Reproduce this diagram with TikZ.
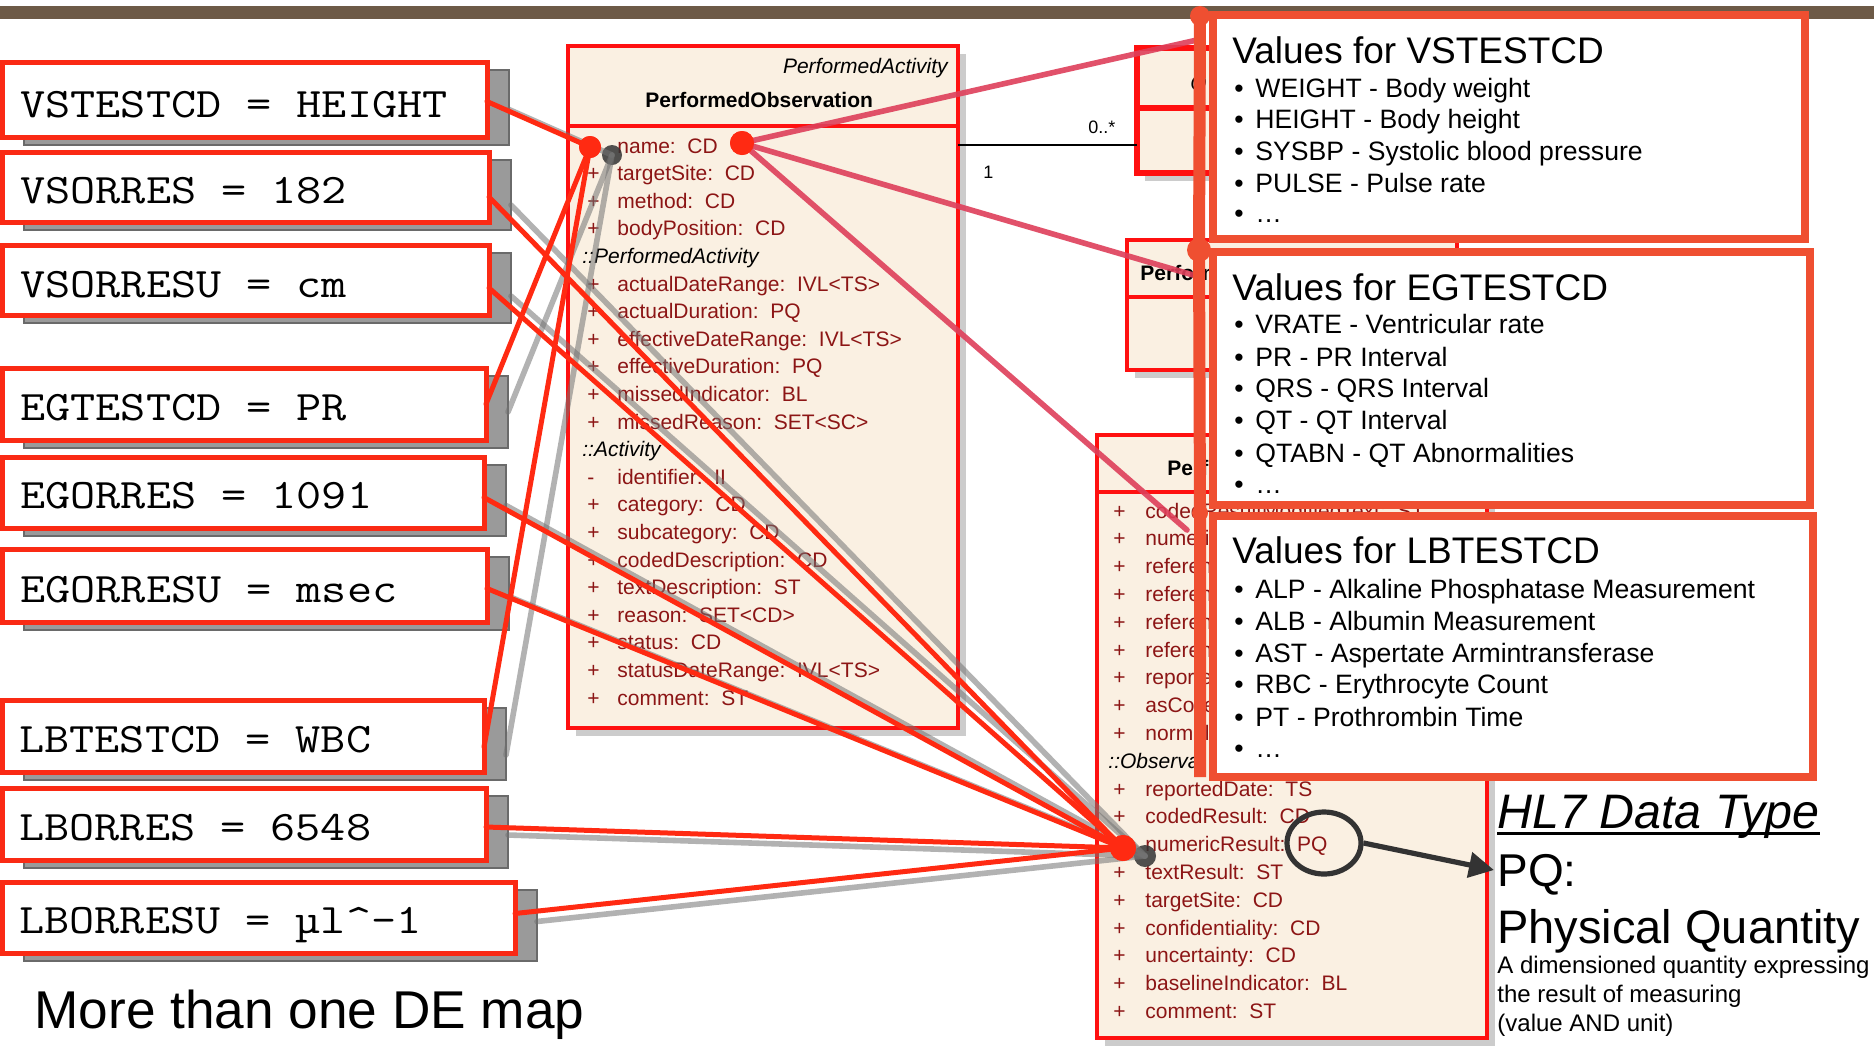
\documentclass[tikz,border=0pt]{standalone}
\usepackage{fontspec}
\usepackage{graphicx}
\setmainfont{Liberation Sans}
\usetikzlibrary{fit,calc,arrows.meta,shapes.geometric}
\definecolor{barbrown}{HTML}{6D5A47}
\definecolor{boxred}{HTML}{FA2A14}
\definecolor{umlred}{HTML}{FF1010}
\definecolor{beige}{HTML}{FAF0E2}
\definecolor{attrred}{HTML}{8C1515}
\definecolor{valorange}{HTML}{EF4F31}
\definecolor{conred}{HTML}{FF2A12}
\definecolor{pinkline}{HTML}{DE3F5A}
\definecolor{shgray}{HTML}{9A9A9A}
\definecolor{shborder}{HTML}{6A6A6A}
\definecolor{ringgray}{HTML}{333333}
\newcommand\shadowrect[4]{\filldraw[leftshadow] (#1+22,#2+8) rectangle (#3+22,#4+8);}
\newcommand\monoline[1]{\scalebox{1}[0.86]{#1}}
\begin{document}
\begin{tikzpicture}[x=0.5pt,y=-0.5pt,
 leftbox/.style={draw=boxred,line width=2.5pt,fill=white,inner sep=0pt,outer sep=0pt},
 leftshadow/.style={draw=shborder,line width=1pt,fill=shgray},
 monotext/.style={anchor=base west,inner sep=0pt,font=\ttfamily\fontsize{24.4}{28}\selectfont},
 umlbox/.style={draw=umlred,line width=2pt,fill=beige,inner sep=0pt,outer sep=0pt},
 umlshadow/.style={fill=black!20},
 umlsep/.style={draw=umlred,line width=2pt},
 attr/.style={anchor=base west,inner sep=0pt,text=attrred,font=\fontsize{10.5}{12}\selectfont},
 attrit/.style={anchor=base west,inner sep=0pt,font=\itshape\fontsize{10.5}{12}\selectfont},
 hdrbold/.style={anchor=base west,inner sep=0pt,font=\bfseries\fontsize{10.5}{12}\selectfont},
 smalllbl/.style={anchor=base west,inner sep=0pt,font=\fontsize{9}{11}\selectfont},
 conn/.style={draw=conred,line width=2.5pt,line cap=round},
 connshadow/.style={draw=black!55,line width=2.8pt,opacity=0.55,line cap=round},
 pinkconn/.style={draw=pinkline,line width=2.8pt,opacity=0.9,line cap=round},
 reddot/.style={circle,fill=conred,inner sep=0pt,minimum size=#1},
 graydot/.style={circle,fill=black!80,opacity=0.85,inner sep=0pt,minimum size=#1},
 valbox/.style={draw=valorange,line width=4pt,fill=white,inner sep=0pt},
 valtitle/.style={anchor=base west,inner sep=0pt,font=\fontsize{18.5}{22}\selectfont},
 valitem/.style={anchor=base west,inner sep=0pt,font=\fontsize{13.3}{16}\selectfont},
 bardot/.style={circle,fill=valorange,inner sep=0pt,minimum size=#1},
 rtext/.style={anchor=base west,inner sep=0pt},
]
\useasboundingbox (0,0) rectangle (1874,1045);
\fill[white] (0,0) rectangle (1874,1045);
\fill[barbrown] (0,6) rectangle (1874,19);

% ---------- left boxes ----------
\shadowrect{2}{62}{487}{137}
\node[leftbox,fit={(2,62)(487,137)}] (vstestcd) {};
\node[monotext] (vstestcd-t) at (20,117) {\monoline{VSTESTCD = HEIGHT}};
\shadowrect{2}{152}{489}{222}
\node[leftbox,fit={(2,152)(489,222)}] (vsorres) {};
\node[monotext] (vsorres-t) at (20,203) {\monoline{VSORRES = 182}};
\shadowrect{2}{245}{489}{315}
\node[leftbox,fit={(2,245)(489,315)}] (vsorresu) {};
\node[monotext] (vsorresu-t) at (20,297) {\monoline{VSORRESU = cm}};
\shadowrect{2}{368}{486}{440}
\node[leftbox,fit={(2,368)(486,440)}] (egtestcd) {};
\node[monotext] (egtestcd-t) at (20,420) {\monoline{EGTESTCD = PR}};
\shadowrect{2}{457}{484}{528}
\node[leftbox,fit={(2,457)(484,528)}] (egorres) {};
\node[monotext] (egorres-t) at (20,508) {\monoline{EGORRES = 1091}};
\shadowrect{2}{549}{487}{622}
\node[leftbox,fit={(2,549)(487,622)}] (egorresu) {};
\node[monotext] (egorresu-t) at (20,602) {\monoline{EGORRESU = msec}};
\shadowrect{2}{700}{484}{772}
\node[leftbox,fit={(2,700)(484,772)}] (lbtestcd) {};
\node[monotext] (lbtestcd-t) at (19,752) {\monoline{LBTESTCD = WBC}};
\shadowrect{2}{788}{486}{860}
\node[leftbox,fit={(2,788)(486,860)}] (lborres) {};
\node[monotext] (lborres-t) at (19,840) {\monoline{LBORRES = 6548}};
\shadowrect{2}{882}{515}{953}
\node[leftbox,fit={(2,882)(515,953)}] (lborresu) {};
\node[monotext] (lborresu-t) at (19,933) {\monoline{LBORRESU = µl\textasciicircum{}-1}};

\node[rtext,font=\fontsize{26.6}{30}\selectfont] (caption) at (34,1028) {More than one DE map};

% ---------- central class box ----------
\fill[umlshadow] (576,54) rectangle (966,736);
\node[umlbox,fit={(568,46)(958,728)}] (pobs) {};
\coordinate (sepA) at (568,126);
\draw[umlsep] (sepA) -- (sepA -| pobs.east);
\node[attrit,anchor=base east] (pobs-st) at (948,73) {PerformedActivity};
\node[hdrbold] (pobs-name) at (645,107) {PerformedObservation};
\foreach \i/\s/\t in {0/+/name:~~CD,1/+/targetSite:~~CD,2/+/method:~~CD,3/+/bodyPosition:~~CD,5/+/actualDateRange:~~IVL<TS>,6/+/actualDuration:~~PQ,7/+/effectiveDateRange:~~IVL<TS>,8/+/effectiveDuration:~~PQ,9/+/missedIndicator:~~BL,10/+/missedReason:~~SET<SC>,12/-/identifier:~~II,13/+/category:~~CD,14/+/subcategory:~~CD,15/+/codedDescription:~~CD,16/+/textDescription:~~ST,17/+/reason:~~SET<CD>,18/+/status:~~CD,19/+/statusDateRange:~~IVL<TS>,20/+/comment:~~ST}{
  \node[attr] (pa-s\i) at (587,153+27.6*\i) {\s};
  \node[attr] (pa-t\i) at (617,153+27.6*\i) {\t};
}
\node[attrit] (pa-i4) at (582,153+27.6*4) {::PerformedActivity};
\node[attrit] (pa-i11) at (582,153+27.6*11) {::Activity};

% ---------- partially hidden class boxes ----------
\fill[umlshadow] (1145,56) rectangle (1308,181);
\node[umlbox,line width=3pt,fit={(1137,48)(1300,173)}] (sb1) {};
\coordinate (sepB) at (1137,108);
\draw[umlsep,line width=3pt] (sepB) -- (sepB -| sb1.east);
\node[attrit] (sb1-st) at (1190,90) {O};
\coordinate (assoc) at (0,145);
\draw[black,line width=1pt] (pobs.east |- assoc) -- (sb1.west |- assoc);
\node[smalllbl] (mult1) at (1088,133) {0..*};
\node[smalllbl] (mult2) at (983,178) {1};

\fill[umlshadow] (1135,248) rectangle (1465,378);
\node[umlbox,fit={(1127,240)(1457,370)}] (sb2) {};
\coordinate (sepC) at (1127,297);
\draw[umlsep] (sepC) -- (sepC -| sb2.east);
\node[hdrbold] (sb2-name) at (1140,280) {Perform};

\fill[umlshadow] (1105,443) rectangle (1495,1046);
\node[umlbox,fit={(1097,435)(1487,1038)}] (pres) {};
\coordinate (sepD) at (1097,492);
\draw[umlsep] (sepD) -- (sepD -| pres.east);
\node[hdrbold] (pres-name) at (1167,475) {Perf};
\foreach \i/\s/\t in {0/+/codedResultModifiedText:~~ST,1/+/numeri,2/+/referen,3/+/referen,4/+/referen,5/+/referen,6/+/reporte,7/+/asColle,8/+/normal,10/+/reportedDate:~~TS,11/+/codedResult:~~CD,12/+/numericResult:~~PQ,13/+/textResult:~~ST,14/+/targetSite:~~CD,15/+/confidentiality:~~CD,16/+/uncertainty:~~CD,17/+/baselineIndicator:~~BL,18/+/comment:~~ST}{
  \node[attr] (pr-s\i) at (1113,518+27.8*\i) {\s};
  \node[attr] (pr-t\i) at (1145,518+27.8*\i) {\t};
}
\node[attrit] (pr-i9) at (1108,518+27.8*9) {::Observat};

% ---------- connectors ----------
\node[graydot=10pt] (gA) at (612,155) {};
\node[graydot=11pt] (gB) at (1145,856) {};
\coordinate (o-vst) at ($(vstestcd.east)+(0,2)$);
\coordinate (o-egt) at ($(egtestcd.east)+(0,0)$);
\coordinate (o-lbt) at ($(lbtestcd.east)+(0,11)$);
\coordinate (o-vso) at ($(vsorres.east)+(0,10)$);
\coordinate (o-vsu) at ($(vsorresu.east)+(0,8)$);
\coordinate (o-ego) at ($(egorres.east)+(0,5)$);
\coordinate (o-egu) at ($(egorresu.east)+(0,3)$);
\coordinate (o-lbo) at ($(lborres.east)+(0,3)$);
\coordinate (o-lbu) at ($(lborresu.east)+(0,-4)$);
\foreach \c in {o-vst,o-egt,o-lbt}{\draw[connshadow] ($(\c)+(22,8)$) -- (gA.center);}
\foreach \c in {o-vso,o-vsu,o-ego,o-egu,o-lbo,o-lbu}{\draw[connshadow] ($(\c)+(22,8)$) -- (gB.center);}
\node[reddot=11pt] (dA) at (590,147) {};
\node[reddot=13pt] (dB) at (1123,848) {};
\node[reddot=12pt] (dN) at (742,143) {};
\foreach \c in {o-vst,o-egt,o-lbt}{\draw[conn] (\c) -- (dA.center);}
\foreach \c in {o-vso,o-vsu,o-ego,o-egu,o-lbo,o-lbu}{\draw[conn] (\c) -- (dB.center);}
\node[reddot=11pt] (dA2) at (590,147) {};
\node[reddot=13pt] (dB2) at (1123,848) {};
\coordinate (pv1) at (1197,40);
\coordinate (pv2) at (1193,275);
\coordinate (pv3) at (1187,530);
\foreach \c in {pv1,pv2,pv3}{\draw[pinkconn] (dN.center) -- (\c);}
\node[reddot=12pt] (dN2) at (742,143) {};

% ---------- value boxes ----------
\node[valbox,fit={(1213,15)(1805,239)}] (vsval) {};
\node[valtitle] (vsval-t) at (1232,63) {Values for VSTESTCD};
\node[valitem] (vs1) at (1234,97) {\makebox[10.5pt][l]{•}WEIGHT - Body weight};
\node[valitem] (vs2) at (1234,128) {\makebox[10.5pt][l]{•}HEIGHT - Body height};
\node[valitem] (vs3) at (1234,160) {\makebox[10.5pt][l]{•}SYSBP - Systolic blood pressure};
\node[valitem] (vs4) at (1234,192) {\makebox[10.5pt][l]{•}PULSE - Pulse rate};
\node[valitem] (vs5) at (1234,222) {\makebox[10.5pt][l]{•}…};

\node[valbox,fit={(1213,252)(1810,505)}] (egval) {};
\node[valtitle] (egval-t) at (1232,300) {Values for EGTESTCD};
\node[valitem] (eg1) at (1234,333) {\makebox[10.5pt][l]{•}VRATE - Ventricular rate};
\node[valitem] (eg2) at (1234,366) {\makebox[10.5pt][l]{•}PR - PR Interval};
\node[valitem] (eg3) at (1234,397) {\makebox[10.5pt][l]{•}QRS - QRS Interval};
\node[valitem] (eg4) at (1234,429) {\makebox[10.5pt][l]{•}QT - QT Interval};
\node[valitem] (eg5) at (1234,462) {\makebox[10.5pt][l]{•}QTABN - QT Abnormalities};
\node[valitem] (eg6) at (1234,493) {\makebox[10.5pt][l]{•}…};

\node[valbox,fit={(1213,516)(1813,777)}] (lbval) {};
\node[valtitle] (lbval-t) at (1232,563) {Values for LBTESTCD};
\node[valitem] (lb1) at (1234,598) {\makebox[10.5pt][l]{•}ALP - Alkaline Phosphatase Measurement};
\node[valitem] (lb2) at (1234,630) {\makebox[10.5pt][l]{•}ALB - Albumin Measurement};
\node[valitem] (lb3) at (1234,662) {\makebox[10.5pt][l]{•}AST - Aspertate Armintransferase};
\node[valitem] (lb4) at (1234,693) {\makebox[10.5pt][l]{•}RBC - Erythrocyte Count};
\node[valitem] (lb5) at (1234,726) {\makebox[10.5pt][l]{•}PT - Prothrombin Time};
\node[valitem] (lb6) at (1234,757) {\makebox[10.5pt][l]{•}…};

% ---------- vertical bar ----------
\node[bardot=10pt] (bd1) at (1200,16) {};
\node[bardot=12pt] (bd2) at (1199,250) {};
\node[bardot=8pt] (bd3) at (1200,513) {};
\coordinate (barB) at (1200,777);
\draw[valorange,line width=6pt] (bd1.center) -- (bd2.center) -- (bd3.center) -- (barB);

% ---------- data type annotation ----------
\node[draw=ringgray,line width=2.6pt,ellipse,minimum width=37pt,minimum height=31pt,inner sep=0pt] (pqring) at (1324,843) {};
\coordinate (pqtip) at (1494,870);
\draw[ringgray,line width=2.6pt,-{Triangle[length=12.5pt,width=12.5pt]}] (pqring.east) -- (pqtip);
\node[rtext,font=\itshape\fontsize{24.2}{28}\selectfont] (hl7) at (1497,828) {HL7 Data Type};
\draw[black,line width=1.5pt] ($(hl7.base west)+(0,5)$) -- ($(hl7.base east)+(0,5)$);
\node[rtext,font=\fontsize{23}{27}\selectfont] (pq) at (1497,886) {PQ:};
\node[rtext,font=\fontsize{23.5}{27}\selectfont] (pqname) at (1497,943) {Physical Quantity};
\node[rtext,font=\fontsize{12}{14}\selectfont] (pqd1) at (1497,973) {A dimensioned quantity expressing};
\node[rtext,font=\fontsize{12}{14}\selectfont] (pqd2) at (1497,1002) {the result of measuring};
\node[rtext,font=\fontsize{12}{14}\selectfont] (pqd3) at (1497,1031) {(value AND unit)};
\end{tikzpicture}
\end{document}
